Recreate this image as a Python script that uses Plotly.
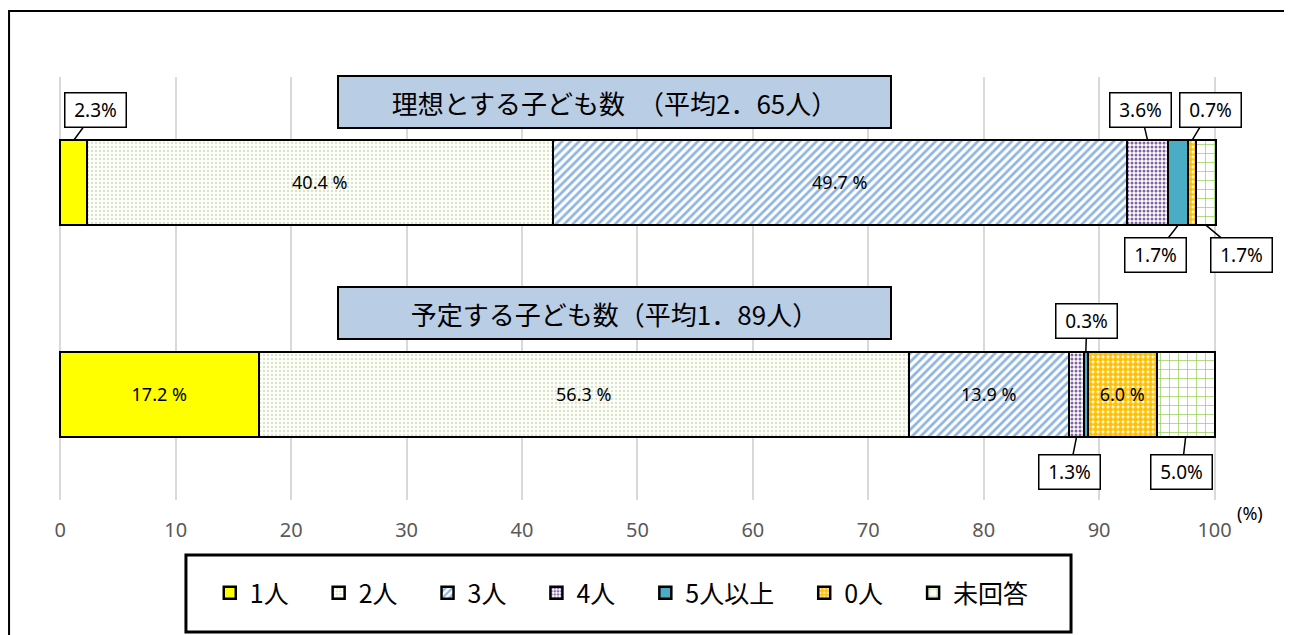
import numpy as np
import plotly.graph_objects as go

# ---------------- data ----------------
series_names = ["1人", "2人", "3人", "4人", "5人以上", "0人", "未回答"]
ideal = [2.3, 40.4, 49.7, 3.6, 1.7, 0.7, 1.7]      # 理想とする子ども数
planned = [17.2, 56.3, 13.9, 1.3, 0.3, 6.0, 5.0]   # 予定する子ども数
titles = ["理想とする子ども数　（平均2．65人）", "予定する子ども数（平均1．89人）"]
x_ticks = [0, 10, 20, 30, 40, 50, 60, 70, 80, 90, 100]

rows = [ideal, planned]
row_y = [1, 0]  # top bar, bottom bar

# ---------------- styles ----------------
JP = "Noto Sans CJK JP"
LAT = "Noto Sans"
patterns = [
    dict(color="#FFFF00"),
    dict(color="white", pattern=dict(shape=".", fgcolor="#DAE5C2", bgcolor="white", size=4, solidity=0.3, fillmode="replace")),
    dict(color="white", pattern=dict(shape="/", fgcolor="#8DB4E2", bgcolor="white", size=6, solidity=0.45, fillmode="replace")),
    dict(color="white", pattern=dict(shape=".", fgcolor="#8064A2", bgcolor="white", size=4, solidity=0.45, fillmode="replace")),
    dict(color="#4BACC6"),
    dict(color="white", pattern=dict(shape=".", fgcolor="#FFC000", bgcolor="white", size=5, solidity=0.75, fillmode="replace")),
    dict(color="white", pattern=dict(shape="+", fgcolor="#92D050", bgcolor="white", size=9, solidity=0.15, fillmode="replace")),
]
# which segments get their label inside the bar: (row, series)
inside = {(0, 1), (0, 2), (1, 0), (1, 1), (1, 2), (1, 5)}
# callouts: (row, series, side(+1 above/-1 below), dx, dy) offsets in px of label box from anchor
callouts = [
    (0, 0, 1, 22, -30),
    (0, 3, 1, -7, -30),
    (0, 5, 1, 18, -30),
    (0, 4, -1, -23, 30),
    (0, 6, -1, 36, 30),
    (1, 4, 1, 1, -31),
    (1, 3, -1, -7, 35),
    (1, 6, -1, -4, 35),
]
BAR_W = 0.4

fig = go.Figure()
for i, name in enumerate(series_names):
    vals = [ideal[i], planned[i]]
    texts = [f"{v:.1f} %" if (r, i) in inside else "" for r, v in enumerate(vals)]
    mk = dict(patterns[i])
    mk["line"] = dict(color="black", width=2.5)
    legend_name = name + ("\u3000" if i < len(series_names) - 1 else "")
    fig.add_trace(go.Bar(
        x=vals, y=row_y, orientation="h", name=legend_name, width=BAR_W,
        marker=mk, text=texts, textposition="inside", insidetextanchor="middle",
        textangle=0, textfont=dict(family=LAT, size=18, color="black"),
        hoverinfo="x+name",
    ))

# callouts
for r, s, side, dx, dy in callouts:
    vals = rows[r]
    cum = np.cumsum(vals)
    xc = cum[s] - vals[s] / 2
    yc = row_y[r] + side * BAR_W / 2
    fig.add_annotation(
        x=xc, y=yc, xref="x", yref="y", text=f"{vals[s]:.1f}%",
        showarrow=True, arrowhead=0, arrowwidth=1.5, arrowcolor="black",
        ax=dx, ay=dy, standoff=0,
        bordercolor="black", borderwidth=1.5, bgcolor="white",
        width=58, height=31, borderpad=1,
        font=dict(family=LAT, size=19, color="black"),
    )

# title boxes
for r, t in enumerate(titles):
    fig.add_annotation(
        x=0.480, y=[0.942, 0.441][r], xref="paper", yref="paper",
        text=t, showarrow=False, xanchor="center", yanchor="middle",
        width=549, height=48, borderpad=1,
        bgcolor="#B9CDE5", bordercolor="black", borderwidth=2,
        font=dict(family=JP, size=26, color="black"),
    )

# (%) label
fig.add_annotation(x=1.028, y=-0.03, xref="paper", yref="paper", text="(%)",
                   xanchor="center", yanchor="middle",
                   showarrow=False, font=dict(family=LAT, size=18, color="black"))

# outer frame and legend frame
fig.add_shape(type="rect", xref="paper", yref="paper", x0=-0.0422, x1=1.0621, y0=-0.45, y1=1.156,
              line=dict(color="black", width=2), fillcolor="rgba(0,0,0,0)", layer="below")
fig.add_shape(type="rect", xref="paper", yref="paper", x0=0.1103, x1=0.8733, y0=-0.312, y1=-0.130,
              line=dict(color="black", width=3), fillcolor="rgba(0,0,0,0)")

fig.update_layout(
    width=1284, height=627,
    margin=dict(l=50, r=74, t=69, b=135),
    paper_bgcolor="white", plot_bgcolor="white",
    barmode="stack", bargap=0,
    showlegend=True,
    legend=dict(orientation="h", x=0.486, xanchor="center", y=-0.22, yanchor="middle",
                font=dict(family=JP, size=25, color="black"),
                bgcolor="rgba(0,0,0,0)", borderwidth=0, traceorder="normal",
                itemwidth=30),
    xaxis=dict(range=[-0.2, 100.3], tickvals=x_ticks, ticktext=[str(v) for v in x_ticks],
               showgrid=True, gridcolor="#D9D9D9", gridwidth=2, zeroline=False,
               showline=False, ticks="", ticklabelstandoff=16,
               tickfont=dict(family=LAT, size=20, color="#595959"), fixedrange=True),
    yaxis=dict(range=[-0.5, 1.5], showticklabels=False, showgrid=False, zeroline=False,
               ticks="", fixedrange=True),
)

fig.write_html("out.html")
